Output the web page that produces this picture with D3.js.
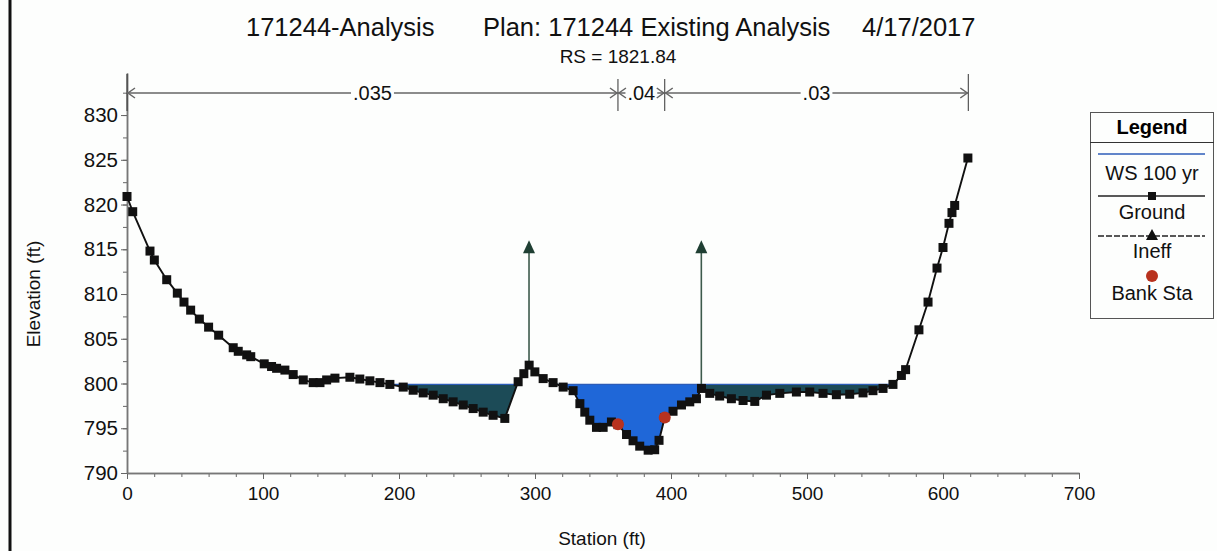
<!DOCTYPE html>
<html>
<head>
<meta charset="utf-8">
<script src="https://cdn.jsdelivr.net/npm/d3@7"></script>
<style>
  body { margin: 0; background: #fdfefd; }
  svg { display: block; font-family: "Liberation Sans", Arial, sans-serif; }
</style>
</head>
<body>
<svg id="chart"></svg>
<script>
// ground survey points (station ft, elevation ft)
const stations = [0, 4.2, 16.9, 20.1, 29.2, 37, 41.9, 46.8, 53.2, 60, 67.4, 78.1, 81.8, 88, 91,
  100.9, 106.3, 110, 116.1, 122.2, 129.6, 136.9, 141.9, 146.8, 152.9, 163.9, 171.2, 178.6, 186,
  193.3, 203.1, 210.4, 217.8, 225.1, 232.5, 239.8, 247.2, 254.5, 261.9, 269.2, 277.8, 287.6,
  291.8, 295.7, 299.9, 306, 313.3, 320.7, 328, 333, 336.6, 340.3, 345.2, 350.1, 356.2, 361,
  367.3, 372.1, 377, 383.2, 388, 391.2, 395.4, 401.5, 407.7, 413.8, 418.7, 422.4, 428.5, 435.8,
  444.4, 453, 461.6, 470.2, 480, 492.2, 502, 511.8, 521.6, 531.4, 541.2, 548.5, 555.9, 563.2,
  569.4, 572.5, 582.3, 589, 595.6, 600, 604.4, 606.6, 608.6, 618.3];
const elevations = [820.9, 819.2, 814.8, 813.8, 811.6, 810.1, 809.1, 808.2, 807.2, 806.3, 805.4,
  804.0, 803.6, 803.2, 803.0, 802.2, 801.9, 801.7, 801.5, 801.0, 800.4, 800.1, 800.1, 800.4,
  800.6, 800.7, 800.5, 800.3, 800.1, 799.9, 799.6, 799.25, 798.95, 798.7, 798.3, 797.95, 797.6,
  797.2, 796.8, 796.45, 796.1, 800.2, 801.1, 802.05, 801.3, 800.55, 800.1, 799.6, 799.2, 797.75,
  796.8, 795.9, 795.1, 795.1, 795.7, 795.4, 794.3, 793.6, 793.0, 792.55, 792.6, 793.65, 796.2,
  796.9, 797.6, 797.95, 798.3, 799.45, 798.9, 798.6, 798.3, 798.1, 798.0, 798.7, 798.9, 799.05,
  799.05, 798.9, 798.75, 798.8, 798.95, 799.2, 799.45, 799.9, 800.9, 801.55, 806.0, 809.1,
  812.9, 815.2, 817.9, 819.1, 819.9, 825.2];

const wsElev = 799.9;
const bankStations = [361, 395.4];
const bankElevations = [795.45, 796.2];
const ineffStations = [295.6, 422.3];
const ineffElevations = [816, 816];
const nBreaks = [0, 361, 395.4, 618.6];
const nValues = [".035", ".04", ".03"];
const xTicks = [0, 100, 200, 300, 400, 500, 600, 700];
const yTicks = [790, 795, 800, 805, 810, 815, 820, 825, 830];
const titleParts = ["171244-Analysis", "Plan: 171244 Existing Analysis", "4/17/2017"];
const subtitle = "RS = 1821.84";
const legendLabels = ["WS 100 yr", "Ground", "Ineff", "Bank Sta"];

const width = 1217,
  height = 551;
const margin = { left: 127, right: 138, top: 73, bottom: 78 };
const bg = "#fdfefd";

const svg = d3.select("#chart").attr("width", width).attr("height", height);

const x = d3.scaleLinear().domain([0, 700]).range([margin.left, width - margin.right]);
const y = d3.scaleLinear().domain([790, 834.7]).range([height - margin.bottom, margin.top]);

const ground = stations.map((s, i) => ({ s: s, e: elevations[i] }));
const groundAt = d3.scaleLinear().domain(stations).range(elevations);

// page border on the left
svg.append("line")
  .attr("x1", 10).attr("x2", 10).attr("y1", 0).attr("y2", height)
  .attr("stroke", "#111").attr("stroke-width", 3);

// titles
const titleX = [246, 483, 862];
svg.selectAll(".title")
  .data(titleParts)
  .join("text")
  .attr("class", "title")
  .attr("x", (d, i) => titleX[i])
  .attr("y", 36)
  .style("font-size", "25.5px")
  .attr("fill", "#111")
  .text(d => d);

svg.append("text")
  .attr("x", 618).attr("y", 63)
  .attr("text-anchor", "middle")
  .style("font-size", "19px")
  .attr("fill", "#111")
  .text(subtitle);

// water area (ground clipped at WS)
const wet = [];
ground.forEach((p, i) => {
  if (i > 0) {
    const q = ground[i - 1];
    if ((q.e - wsElev) * (p.e - wsElev) < 0) {
      const t = (wsElev - q.e) / (p.e - q.e);
      wet.push({ s: q.s + t * (p.s - q.s), e: wsElev, dry: false });
    }
  }
  wet.push({ s: p.s, e: Math.min(p.e, wsElev), dry: p.e > wsElev });
});

const defs = svg.append("defs");
defs.append("clipPath").attr("id", "effClip")
  .append("rect")
  .attr("x", x(ineffStations[0])).attr("y", 0)
  .attr("width", x(ineffStations[1]) - x(ineffStations[0]))
  .attr("height", height);

const waterArea = d3.area()
  .x(d => x(d.s))
  .y0(y(wsElev))
  .y1(d => y(d.e));

svg.append("path")
  .attr("d", waterArea(wet))
  .attr("fill", "#1c4b57");

svg.append("path")
  .attr("d", waterArea(wet))
  .attr("clip-path", "url(#effClip)")
  .attr("fill", "#1f67d8");

svg.append("path")
  .attr("d", d3.line().defined(d => !d.dry).x(d => x(d.s)).y(y(wsElev))(wet))
  .attr("fill", "none")
  .attr("stroke", "#2c5cb8")
  .attr("stroke-width", 1.2);

// axes
const xAxis = svg.append("g")
  .attr("transform", `translate(0,${y(790)})`)
  .call(d3.axisBottom(x).tickValues(d3.range(0, 701, 20)).tickSize(4).tickSizeOuter(0).tickFormat(""));
xAxis.append("g")
  .call(d3.axisBottom(x).tickValues(xTicks).tickSize(6).tickSizeOuter(0).tickPadding(8))
  .call(g => g.selectAll("text").style("font-size", "19px").attr("fill", "#111"));

const yAxis = svg.append("g")
  .attr("transform", `translate(${x(0)},0)`)
  .call(d3.axisLeft(y).tickValues(d3.range(790, 833, 2.5)).tickSize(4).tickSizeOuter(0).tickFormat(""));
yAxis.append("g")
  .call(d3.axisLeft(y).tickValues(yTicks).tickSize(6).tickSizeOuter(0).tickPadding(3))
  .call(g => g.selectAll("text").style("font-size", "20.5px").attr("fill", "#111"));

svg.selectAll(".domain").attr("stroke", "#777").attr("stroke-width", 1.5);
svg.selectAll(".tick line").attr("stroke", "#666");

svg.append("text")
  .attr("x", 602).attr("y", 545)
  .attr("text-anchor", "middle")
  .style("font-size", "19px")
  .attr("fill", "#111")
  .text("Station (ft)");

svg.append("text")
  .attr("transform", "translate(40,294) rotate(-90)")
  .attr("text-anchor", "middle")
  .style("font-size", "19px")
  .attr("fill", "#111")
  .text("Elevation (ft)");

// Manning's n brackets
const nY = 93;
const nGroup = svg.append("g").attr("stroke", "#666").attr("fill", "none");
nBreaks.forEach(s => {
  nGroup.append("line")
    .attr("x1", x(s)).attr("x2", x(s))
    .attr("y1", s === 0 || s === nBreaks[3] ? 74 : 79)
    .attr("y2", 111)
    .attr("stroke", "#333");
});
nValues.forEach((v, i) => {
  const x0 = x(nBreaks[i]), x1 = x(nBreaks[i + 1]);
  nGroup.append("line")
    .attr("x1", x0).attr("x2", x1)
    .attr("y1", nY).attr("y2", nY)
    .attr("stroke-width", 1.5);
  nGroup.append("path")
    .attr("d", `M${x0 + 8},${nY - 5}L${x0 + 1},${nY}L${x0 + 8},${nY + 5}`)
    .attr("stroke-width", 1.5);
  nGroup.append("path")
    .attr("d", `M${x1 - 8},${nY - 5}L${x1 - 1},${nY}L${x1 - 8},${nY + 5}`)
    .attr("stroke-width", 1.5);
  const t = svg.append("text")
    .attr("x", (x0 + x1) / 2).attr("y", nY + 7)
    .attr("text-anchor", "middle")
    .style("font-size", "20px")
    .attr("fill", "#111")
    .text(v);
  const bb = t.node().getBBox();
  svg.append("rect")
    .attr("x", bb.x - 2).attr("y", nY - 3)
    .attr("width", bb.width + 4).attr("height", 6)
    .attr("fill", bg);
  t.raise();
});

// ineffective flow markers
const ineff = svg.append("g");
ineffStations.forEach((s, i) => {
  const tipY = y(ineffElevations[i]);
  ineff.append("line")
    .attr("x1", x(s)).attr("x2", x(s))
    .attr("y1", y(groundAt(s))).attr("y2", tipY + 10)
    .attr("stroke", "#3d5a4c").attr("stroke-width", 1.6);
  ineff.append("path")
    .attr("d", `M${x(s)},${tipY}L${x(s) - 6},${tipY + 13}L${x(s) + 6},${tipY + 13}Z`)
    .attr("fill", "#1f3f33");
});

// ground line with square markers
svg.append("path")
  .attr("d", d3.line().x(d => x(d.s)).y(d => y(d.e))(ground))
  .attr("fill", "none")
  .attr("stroke", "#111")
  .attr("stroke-width", 1.9);

svg.selectAll(".gpt")
  .data(ground)
  .join("rect")
  .attr("class", "gpt")
  .attr("x", d => x(d.s) - 4.5)
  .attr("y", d => y(d.e) - 4.5)
  .attr("width", 9).attr("height", 9)
  .attr("fill", "#111");

// bank stations
svg.selectAll(".bank")
  .data(bankStations)
  .join("circle")
  .attr("class", "bank")
  .attr("cx", d => x(d))
  .attr("cy", (d, i) => y(bankElevations[i]))
  .attr("r", 6)
  .attr("fill", "#b8321e");

// legend
const lg = svg.append("g");
lg.append("rect")
  .attr("x", 1090.5).attr("y", 112.5)
  .attr("width", 123).attr("height", 206)
  .attr("fill", bg).attr("stroke", "#555");
lg.append("line")
  .attr("x1", 1090).attr("x2", 1214).attr("y1", 142.5).attr("y2", 142.5)
  .attr("stroke", "#333");
lg.append("text")
  .attr("x", 1152).attr("y", 134)
  .attr("text-anchor", "middle")
  .style("font-size", "20px").style("font-weight", "bold")
  .text("Legend");

const lx0 = 1098, lx1 = 1205, lcx = 1152;
lg.append("line").attr("x1", lx0).attr("x2", lx1).attr("y1", 154).attr("y2", 154)
  .attr("stroke", "#2c5cb8").attr("stroke-width", 1.4);
lg.append("line").attr("x1", lx0).attr("x2", lx1).attr("y1", 196).attr("y2", 196)
  .attr("stroke", "#222").attr("stroke-width", 1.4);
lg.append("rect").attr("x", lcx - 4).attr("y", 192).attr("width", 8).attr("height", 8).attr("fill", "#111");
lg.append("line").attr("x1", lx0).attr("x2", lx1).attr("y1", 236).attr("y2", 236)
  .attr("stroke", "#222").attr("stroke-width", 1.4).attr("stroke-dasharray", "6,2");
lg.append("path").attr("d", `M${lcx},${229}L${lcx - 6},${240}L${lcx + 6},${240}Z`).attr("fill", "#111");
lg.append("circle").attr("cx", lcx).attr("cy", 276).attr("r", 6).attr("fill", "#b8321e");

const legendY = [180, 219, 258, 300];
lg.selectAll(".ltxt")
  .data(legendLabels)
  .join("text")
  .attr("class", "ltxt")
  .attr("x", lcx)
  .attr("y", (d, i) => legendY[i])
  .attr("text-anchor", "middle")
  .style("font-size", "20px")
  .attr("fill", "#111")
  .text(d => d);
</script>
</body>
</html>
